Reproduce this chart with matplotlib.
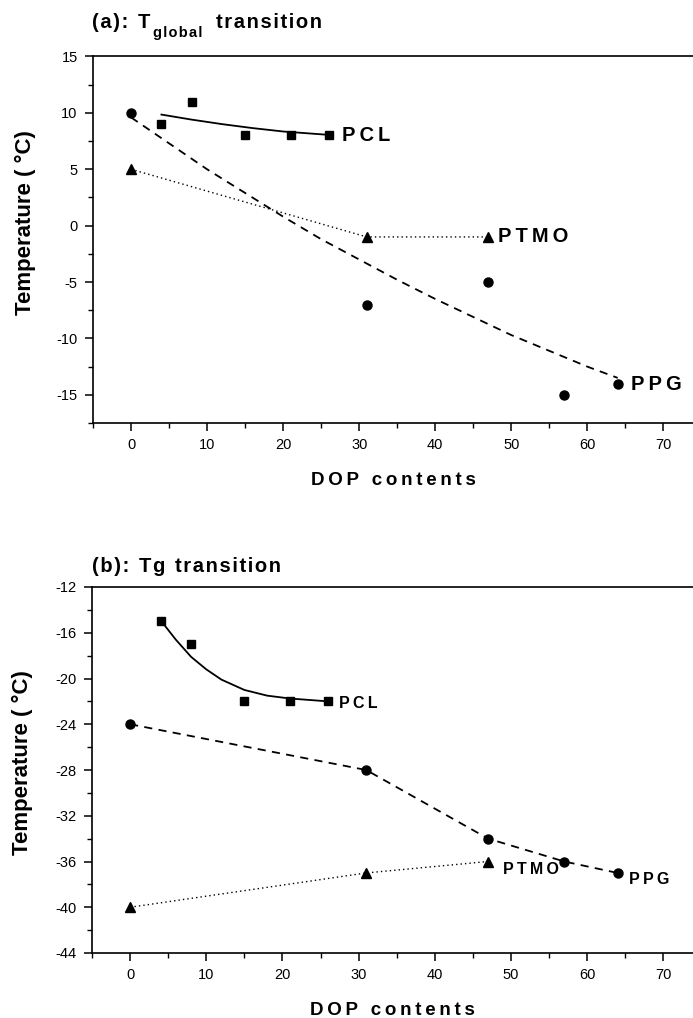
import matplotlib
matplotlib.use("Agg")
import matplotlib.pyplot as plt
from matplotlib.ticker import MultipleLocator

plt.rcParams['font.family'] = ['Liberation Sans', 'DejaVu Sans']
plt.rcParams['axes.unicode_minus'] = False

# ---------- Panel (a): T_global transition ----------
a_pcl_x = [4, 8, 15, 21, 26]
a_pcl_y = [9, 11, 8, 8, 8]
a_pcl_fit_x = [4, 8, 12, 16, 20, 24, 26]
a_pcl_fit_y = [9.85, 9.4, 9.0, 8.65, 8.35, 8.15, 8.05]

a_ppg_x = [0, 31, 47, 57, 64]
a_ppg_y = [10, -7, -5, -15, -14]
a_ppg_fit_x = [0, 5, 10, 15, 20, 25, 30, 35, 40, 45, 50, 55, 60, 64]
a_ppg_fit_y = [9.6, 7.3, 5.0, 2.9, 0.8, -1.2, -3.0, -4.8, -6.5, -8.1, -9.7, -11.1, -12.5, -13.5]

a_ptmo_x = [0, 31, 47]
a_ptmo_y = [5, -1, -1]

# ---------- Panel (b): Tg transition ----------
b_pcl_x = [4, 8, 15, 21, 26]
b_pcl_y = [-15, -17, -22, -22, -22]
b_pcl_fit_x = [4, 6, 8, 10, 12, 15, 18, 21, 24, 26]
b_pcl_fit_y = [-14.9, -16.6, -18.1, -19.2, -20.1, -21.0, -21.5, -21.75, -21.9, -22.0]

b_ppg_x = [0, 31, 47, 57, 64]
b_ppg_y = [-24, -28, -34, -36, -37]

b_ptmo_x = [0, 31, 47]
b_ptmo_y = [-40, -37, -36]

TS = '\u2009'  # thin space
HS = '\u200a'  # hair space


def spaced(s, sp=TS):
    return sp.join(list(s))


def spaced_words(s, sp=HS):
    return (' ' + TS).join(spaced(w, sp) for w in s.split(' '))


fig = plt.figure(figsize=(6.93, 10.18), dpi=100)
W, H = 693, 1018


def make_ax(left_px, top_px, bottom_px):
    return fig.add_axes([left_px / W, 1 - bottom_px / H,
                         1 - left_px / W, (bottom_px - top_px) / H])


ax1 = make_ax(93, 56.5, 423)
ax2 = make_ax(92, 587, 953)


def style(ax, ylim, ymaj, ymin, ylab_x, ylab_y):
    ax.set_xlim(-5, 73.9)
    ax.set_ylim(*ylim)
    ax.xaxis.set_major_locator(MultipleLocator(10))
    ax.xaxis.set_minor_locator(MultipleLocator(5))
    ax.yaxis.set_major_locator(MultipleLocator(ymaj))
    ax.yaxis.set_minor_locator(MultipleLocator(ymin))
    ax.spines['right'].set_visible(False)
    for s in ['left', 'bottom', 'top']:
        ax.spines[s].set_linewidth(1.2)
    ax.tick_params(which='major', direction='out', length=6, width=1.1,
                   labelsize=10.5, top=False, right=False, pad=5)
    ax.tick_params(which='minor', direction='out', length=3.5, width=1.0,
                   top=False, right=False)
    ax.set_xlabel(spaced('DOP contents'), fontsize=13.5, fontweight='bold')
    ax.set_ylabel('Temperature ( \u00b0C)', fontsize=16, fontweight='bold')
    ax.xaxis.set_label_coords(0.5, -0.134)
    ax.xaxis.label.set_verticalalignment('top')
    ax.yaxis.label.set_verticalalignment('center')
    ax.yaxis.set_label_coords(ylab_x, ylab_y)


style(ax1, (-17.5, 15), 5, 2.5, -0.112, 0.546)
style(ax2, (-44, -12), 4, 2, -0.116, 0.519)

dash = (0, (4.5, 3.5))
dot = (0, (1, 2.2))

# Panel a
ax1.plot(a_pcl_fit_x, a_pcl_fit_y, color='black', lw=1.3, ls='-')
ax1.plot(a_pcl_x, a_pcl_y, 's', color='black', ms=5.5)
ax1.plot(a_ppg_fit_x, a_ppg_fit_y, color='black', lw=1.3, ls=dash)
ax1.plot(a_ppg_x, a_ppg_y, 'o', color='black', ms=6.5)
ax1.plot(a_ptmo_x, a_ptmo_y, color='black', lw=1.0, ls=dot)
ax1.plot(a_ptmo_x, a_ptmo_y, '^', color='black', ms=7)

ax1.text(27.8, 8.0, spaced('PCL'), fontsize=14.5, fontweight='bold', va='center', ha='left')
ax1.text(48.3, -1.0, spaced('PTMO'), fontsize=14.5, fontweight='bold', va='center', ha='left')
ax1.text(65.7, -14.1, spaced('PPG'), fontsize=14.5, fontweight='bold', va='center', ha='left')

# Panel b
ax2.plot(b_pcl_fit_x, b_pcl_fit_y, color='black', lw=1.3, ls='-')
ax2.plot(b_pcl_x, b_pcl_y, 's', color='black', ms=5.5)
ax2.plot(b_ppg_x, b_ppg_y, color='black', lw=1.3, ls=dash)
ax2.plot(b_ppg_x, b_ppg_y, 'o', color='black', ms=6.5)
ax2.plot(b_ptmo_x, b_ptmo_y, color='black', lw=1.0, ls=dot)
ax2.plot(b_ptmo_x, b_ptmo_y, '^', color='black', ms=7)

ax2.text(27.4, -22.15, spaced('PCL'), fontsize=11.5, fontweight='bold', va='center', ha='left')
ax2.text(49.0, -36.66, spaced('PTMO'), fontsize=11.5, fontweight='bold', va='center', ha='left')
ax2.text(65.5, -37.6, spaced('PPG'), fontsize=11.5, fontweight='bold', va='center', ha='left')

# Titles
tkw = dict(fontsize=14.5, fontweight='bold', ha='left', va='baseline')
fig.text(92 / W, 1 - 28 / H, spaced_words('(a): T'), **tkw)
fig.text(153 / W, 1 - 37 / H, spaced('global', HS), fontsize=10.5,
         fontweight='bold', ha='left', va='baseline')
fig.text(216 / W, 1 - 28 / H, spaced('transition', HS), **tkw)
fig.text(92 / W, 1 - 572 / H, spaced_words('(b): Tg transition'), **tkw)

fig.savefig('out.png', dpi=100)
